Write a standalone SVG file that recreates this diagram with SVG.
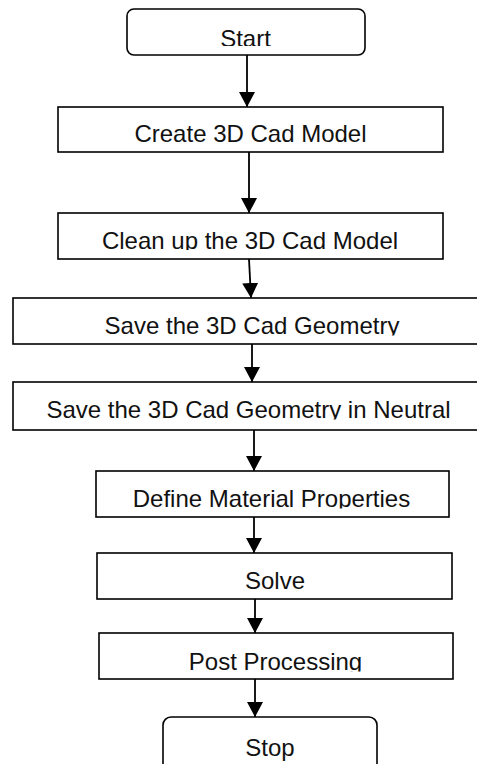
<svg xmlns="http://www.w3.org/2000/svg" width="477" height="764" viewBox="0 0 477 764">
<style>
.box{fill:#fff;stroke:#000;stroke-width:1.6}
.lbl{font-family:"Liberation Sans",Arial,sans-serif;font-size:24px;fill:#111;text-anchor:middle}
.con{stroke:#000;stroke-width:1.8;fill:none}
</style>
<defs>
<marker id="ah" markerUnits="userSpaceOnUse" markerWidth="16" markerHeight="16" refX="15" refY="8" orient="auto">
<path d="M0,0 L15,8 L0,16 Z" fill="#000"/>
</marker>
<clipPath id="c1"><rect x="0" y="0" width="477" height="46"/></clipPath>
<clipPath id="c3"><rect x="0" y="213" width="477" height="37"/></clipPath>
<clipPath id="c4"><rect x="0" y="298" width="477" height="37.5"/></clipPath>
<clipPath id="c5"><rect x="0" y="382" width="477" height="37.5"/></clipPath>
<clipPath id="c6"><rect x="0" y="471" width="477" height="37.5"/></clipPath>
<clipPath id="c8"><rect x="0" y="633" width="477" height="38.5"/></clipPath>
</defs>
<rect width="477" height="764" fill="#fff"/>
<g id="connectors">
<line class="con" x1="247" y1="55" x2="247" y2="107" marker-end="url(#ah)"/>
<line class="con" x1="249" y1="152" x2="249" y2="213" marker-end="url(#ah)"/>
<line class="con" x1="249" y1="259" x2="251" y2="298" marker-end="url(#ah)"/>
<line class="con" x1="252" y1="344" x2="252" y2="382" marker-end="url(#ah)"/>
<line class="con" x1="254" y1="430" x2="254" y2="471" marker-end="url(#ah)"/>
<line class="con" x1="254" y1="517" x2="254" y2="553" marker-end="url(#ah)"/>
<line class="con" x1="255" y1="599" x2="255" y2="633" marker-end="url(#ah)"/>
<line class="con" x1="255" y1="679" x2="255" y2="717" marker-end="url(#ah)"/>
</g>
<g id="start">
<rect class="box" x="127" y="9" width="238" height="46" rx="7"/>
<text class="lbl" x="245.5" y="47" clip-path="url(#c1)">Start</text>
</g>
<g id="create">
<rect class="box" x="58" y="107" width="385" height="45"/>
<text class="lbl" x="250.5" y="142">Create 3D Cad Model</text>
</g>
<g id="cleanup">
<rect class="box" x="58" y="213" width="385" height="46"/>
<text class="lbl" x="250" y="248.5" clip-path="url(#c3)">Clean up the 3D Cad Model</text>
</g>
<g id="save">
<rect class="box" x="13" y="298" width="475" height="46"/>
<text class="lbl" x="252" y="334" clip-path="url(#c4)">Save the 3D Cad Geometry</text>
</g>
<g id="neutral">
<rect class="box" x="13" y="382" width="475" height="48"/>
<text class="lbl" x="248.5" y="418" clip-path="url(#c5)">Save the 3D Cad Geometry in Neutral</text>
</g>
<g id="material">
<rect class="box" x="96" y="471" width="353" height="46"/>
<text class="lbl" x="271.5" y="507" clip-path="url(#c6)">Define Material Properties</text>
</g>
<g id="solve">
<rect class="box" x="97" y="553" width="355" height="46"/>
<text class="lbl" x="275" y="589">Solve</text>
</g>
<g id="post">
<rect class="box" x="99" y="633" width="354" height="46"/>
<text class="lbl" x="275.5" y="670" clip-path="url(#c8)">Post Processing</text>
</g>
<g id="stop">
<rect class="box" x="163" y="717" width="214" height="62" rx="8"/>
<text class="lbl" x="270" y="756">Stop</text>
</g>
</svg>
